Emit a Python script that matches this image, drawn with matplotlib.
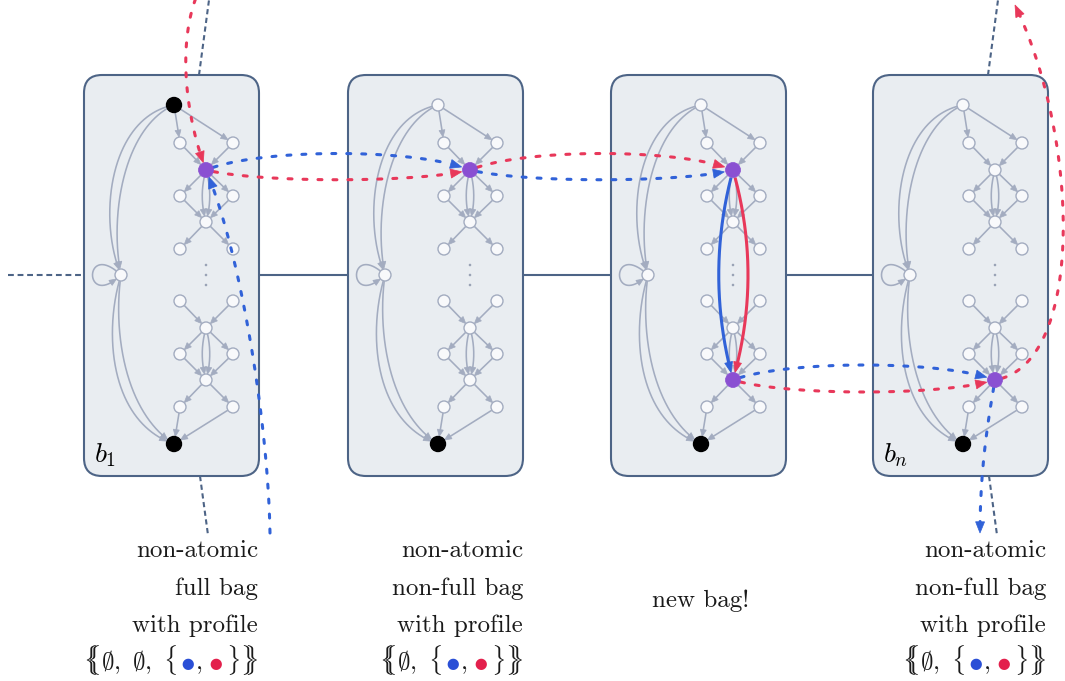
import numpy as np
import matplotlib
matplotlib.use("Agg")
import matplotlib.pyplot as plt
from matplotlib.patches import FancyBboxPatch, Circle, Polygon

plt.rcParams["mathtext.fontset"] = "cm"

# ---------------- data ----------------
bag_left = [84, 348, 611, 873]
bag_labels = [r"$b_1$", "", "", r"$b_n$"]
top_is_black = [True, False, False, False]
purple_centers = [[0], [0], [0, 3], [3]]
desc_lines = [
    ["non-atomic", "full bag", "with profile"],
    ["non-atomic", "non-full bag", "with profile"],
    [],
    ["non-atomic", "non-full bag", "with profile"],
]
profiles = [
    [r"$\{\!\!\!\{\emptyset,\ \emptyset,\ \{$", "B", r"$,$", "R", r"$\}\}\!\!\!\}$"],
    [r"$\{\!\!\!\{\emptyset,\ \{$", "B", r"$,$", "R", r"$\}\}\!\!\!\}$"],
    None,
    [r"$\{\!\!\!\{\emptyset,\ \{$", "B", r"$,$", "R", r"$\}\}\!\!\!\}$"],
]
middle_note = "new bag!"
stub_bags = [0, 3]

# layout
W, H = 1065, 681
BAG_W, BAG_T, BAG_B = 175, 75, 476
TOP_Y, BOT_Y, LEFT_Y = 105, 444, 275
pair_rows = [143, 196, 249, 301, 354, 407]
center_rows = [170, 222, 328, 380]
dots_rows = [265, 275, 285]
DX_TOP, DX_LEFT, DX_CL, DX_C, DX_CR = 90, 37, 96, 122, 149
PIECE_GAPS = [3, 0, 6, 3, 0]   # pixel gap after each profile piece

C_RED = "#e8385a"
C_BLUE = "#3162d8"
C_PURPLE = "#8a50d2"
C_GREY = "#a3acc0"
C_BAGFILL = "#e9edf1"
C_BAGEDGE = "#4d6486"
C_NODEFILL = "#f8f9fb"

fig = plt.figure(figsize=(W / 100, H / 100), dpi=100)
ax = fig.add_axes([0, 0, 1, 1])
ax.set_xlim(0, W)
ax.set_ylim(H, 0)
ax.axis("off")


def bez(p0, c1, c2, p3, n=500):
    t = np.linspace(0, 1, n)[:, None]
    return ((1 - t) ** 3) * p0 + 3 * ((1 - t) ** 2) * t * c1 + 3 * (1 - t) * t ** 2 * c2 + t ** 3 * p3


def edge(p0, p3, c1=None, c2=None, bend=0.0, frac=1 / 3, r0=0, r1=0, color=C_GREY,
         lw=1.15, dashes=None, head=(7, 6), z=2, arrow=True):
    p0 = np.asarray(p0, float)
    p3 = np.asarray(p3, float)
    if c1 is None:
        d = p3 - p0
        nrm = np.array([-d[1], d[0]]) / np.hypot(*d)
        c1 = p0 + d * frac + nrm * bend
        c2 = p0 + d * (1 - frac) + nrm * bend
    c1 = np.asarray(c1, float)
    c2 = np.asarray(c2, float)
    pts = bez(p0, c1, c2, p3)
    keep = (np.hypot(*(pts - p0).T) >= r0) & (np.hypot(*(pts - p3).T) >= r1)
    pts = pts[keep]
    line = pts
    if arrow:
        L, Wd = head
        tip = pts[-1]
        dist = np.hypot(*(pts - tip).T)
        idx = np.where(dist >= L)[0][-1]
        base = pts[idx]
        dv = (tip - base) / np.hypot(*(tip - base))
        pv = np.array([-dv[1], dv[0]])
        tri = Polygon([tip, base + pv * Wd / 2, base - pv * Wd / 2], closed=True,
                      facecolor=color, edgecolor=color, lw=0.5, zorder=z + 0.1)
        ax.add_patch(tri)
        if dashes is None:
            line = np.vstack([pts[: idx + 1], base + dv * L * 0.4])
        else:
            line = pts[: idx + 1]
    kw = dict(color=color, lw=lw, zorder=z, solid_capstyle="butt")
    if dashes is not None:
        kw.update(linestyle=(0, dashes), dash_capstyle="round")
    ax.plot(line[:, 0], line[:, 1], **kw)


R_W, R_B, R_P = 6.0, 7.5, 7.5

# connecting tree lines
for i in range(len(bag_left) - 1):
    ax.plot([bag_left[i] + BAG_W, bag_left[i + 1]], [LEFT_Y, LEFT_Y], color=C_BAGEDGE, lw=1.5, zorder=0)
ax.plot([8, bag_left[0]], [LEFT_Y, LEFT_Y], color=C_BAGEDGE, lw=1.5, linestyle=(0, (2.8, 1.8)), zorder=0)
for b in stub_bags:
    x0 = bag_left[b]
    ax.plot([x0 + 115, x0 + 125], [BAG_T, 0], color=C_BAGEDGE, lw=1.5, linestyle=(0, (2.5, 1.7)), zorder=0)
    ax.plot([x0 + 116, x0 + 124], [BAG_B, 535], color=C_BAGEDGE, lw=1.5, linestyle=(0, (2.5, 1.7)), zorder=0)

node_pos = {}
for b, x0 in enumerate(bag_left):
    box = FancyBboxPatch((x0, BAG_T), BAG_W, BAG_B - BAG_T, boxstyle="round,pad=0,rounding_size=18",
                         facecolor=C_BAGFILL, edgecolor=C_BAGEDGE, lw=1.5, zorder=1)
    ax.add_patch(box)
    T = np.array([x0 + DX_TOP, TOP_Y])
    B = np.array([x0 + DX_TOP, BOT_Y])
    Lf = np.array([x0 + DX_LEFT, LEFT_Y])
    P = [(np.array([x0 + DX_CL, y]), np.array([x0 + DX_CR, y])) for y in pair_rows]
    C = [np.array([x0 + DX_C, y]) for y in center_rows]
    node_pos[b] = C
    rT = R_B if top_is_black[b] else R_W
    rC = [R_P if k in purple_centers[b] else R_W for k in range(4)]

    for s in P[0]:
        edge(T, s, r0=rT, r1=R_W)
        edge(s, C[0], r0=R_W, r1=rC[0])
    for s in P[1]:
        edge(C[0], s, r0=rC[0], r1=R_W)
        edge(s, C[1], r0=R_W, r1=rC[1])
    for bd in (-5, 5):
        edge(C[0], C[1], bend=bd, r0=rC[0], r1=rC[1])
    for s in P[2]:
        edge(C[1], s, r0=rC[1], r1=R_W)
    for s in P[3]:
        edge(s, C[2], r0=R_W, r1=rC[2])
    for s in P[4]:
        edge(C[2], s, r0=rC[2], r1=R_W)
        edge(s, C[3], r0=R_W, r1=rC[3])
    for bd in (-5, 5):
        edge(C[2], C[3], bend=bd, r0=rC[2], r1=rC[3])
    for s in P[5]:
        edge(C[3], s, r0=rC[3], r1=R_W)
        edge(s, B, r0=R_W, r1=R_B)
    edge(T, Lf, c1=T + [-64, 12], c2=Lf + [-24, -58], r0=rT, r1=R_W)
    edge(T, Lf, c1=T + [-50, 22], c2=Lf + [-12, -60], r0=rT, r1=R_W)
    edge(Lf, B, c1=Lf + [-18, 58], c2=B + [-64, -22], r0=R_W, r1=R_B)
    edge(Lf, B, c1=Lf + [-8, 55], c2=B + [-50, -32], r0=R_W, r1=R_B)
    edge(Lf, Lf, c1=Lf + [-38, -36], c2=Lf + [-38, 36], r0=R_W, r1=R_W)

    ax.add_patch(Circle(T, rT, facecolor="black" if top_is_black[b] else C_NODEFILL,
                        edgecolor="black" if top_is_black[b] else C_GREY, lw=1.0, zorder=3))
    ax.add_patch(Circle(B, R_B, facecolor="black", edgecolor="black", lw=1.0, zorder=3))
    ax.add_patch(Circle(Lf, R_W, facecolor=C_NODEFILL, edgecolor=C_GREY, lw=1.0, zorder=3))
    for pr in P:
        for s in pr:
            ax.add_patch(Circle(s, R_W, facecolor=C_NODEFILL, edgecolor=C_GREY, lw=1.0, zorder=3))
    for k, c in enumerate(C):
        if k in purple_centers[b]:
            ax.add_patch(Circle(c, R_P, facecolor=C_PURPLE, edgecolor=C_PURPLE, lw=0.5, zorder=6))
        else:
            ax.add_patch(Circle(c, R_W, facecolor=C_NODEFILL, edgecolor=C_GREY, lw=1.0, zorder=3))
    for y in dots_rows:
        ax.add_patch(Circle((x0 + DX_C, y), 1.3, facecolor="#9aa3b6", edgecolor="none", zorder=3))
    if bag_labels[b]:
        ax.text(x0 + 10, 462, bag_labels[b], fontsize=20, ha="left", va="baseline", zorder=7)

# ---------------- coloured walks ----------------
DASH = (1.3, 3.6)
DL = 2.2
HEAD = (11, 9)
c10, c20, c30, c33, c43 = node_pos[0][0], node_pos[1][0], node_pos[2][0], node_pos[2][3], node_pos[3][3]

edge((197, -5), c10, c1=(177, 45), c2=(186, 118), r1=R_P, color=C_RED, lw=DL, dashes=DASH, head=HEAD, z=5)
edge((270, 533), c10, c1=(268, 420), c2=(240, 250), r1=R_P, color=C_BLUE, lw=DL, dashes=DASH, head=HEAD, z=5)
edge(c10, c20, bend=-22, frac=0.2, r0=R_P, r1=R_P + 1, color=C_BLUE, lw=DL, dashes=DASH, head=HEAD, z=5)
edge(c10, c20, bend=13, frac=0.2, r0=R_P, r1=R_P + 1, color=C_RED, lw=DL, dashes=DASH, head=HEAD, z=5)
edge(c20, c30, bend=-22, frac=0.2, r0=R_P, r1=R_P + 1, color=C_RED, lw=DL, dashes=DASH, head=HEAD, z=5)
edge(c20, c30, bend=13, frac=0.2, r0=R_P, r1=R_P + 1, color=C_BLUE, lw=DL, dashes=DASH, head=HEAD, z=5)
edge(c30, c33, bend=19, r0=R_P, r1=R_P, color=C_BLUE, lw=2.2, head=(10, 8), z=5)
edge(c30, c33, bend=-20, r0=R_P, r1=R_P, color=C_RED, lw=2.2, head=(10, 8), z=5)
edge(c33, c43, bend=-20, frac=0.2, r0=R_P, r1=R_P + 1, color=C_BLUE, lw=DL, dashes=DASH, head=HEAD, z=5)
edge(c33, c43, bend=16, frac=0.2, r0=R_P, r1=R_P + 1, color=C_RED, lw=DL, dashes=DASH, head=HEAD, z=5)
edge(c43, (1015, 5), c1=(1085, 365), c2=(1080, 140), r0=R_P, color=C_RED, lw=DL, dashes=DASH, head=HEAD, z=5)
edge(c43, (980, 533), c1=(988, 420), c2=(980, 470), r0=R_P, color=C_BLUE, lw=DL, dashes=DASH, head=HEAD, z=5)

# ---------------- text ----------------
FS = 18
BASE = [557, 594.5, 632, 669.5]
right_edges = [258, 523, None, 1046]
renderer = fig.canvas.get_renderer()
for b in range(4):
    if right_edges[b] is None:
        continue
    for j, s in enumerate(desc_lines[b]):
        ax.text(right_edges[b], BASE[j], s, fontsize=FS, family="cmr10", ha="right", va="baseline",
                color="#1a1a1a")
    texts = []
    for piece in profiles[b]:
        if piece == "B":
            t = ax.text(0, BASE[3], r"$\bullet$", color="#2a4fd6", fontsize=FS + 3, ha="left", va="baseline")
        elif piece == "R":
            t = ax.text(0, BASE[3], r"$\bullet$", color="#e3204c", fontsize=FS + 3, ha="left", va="baseline")
        else:
            t = ax.text(0, BASE[3], piece, color="#1a1a1a", fontsize=FS, ha="left", va="baseline")
        texts.append(t)
    ws = [t.get_window_extent(renderer).width + g for t, g in zip(texts, PIECE_GAPS)]
    x = right_edges[b] - sum(ws)
    for t, w in zip(texts, ws):
        t.set_x(x)
        x += w

ax.text(701, 607, middle_note, fontsize=FS, family="cmr10", ha="center", va="baseline", color="#1a1a1a")

fig.savefig("out.png", dpi=100)
